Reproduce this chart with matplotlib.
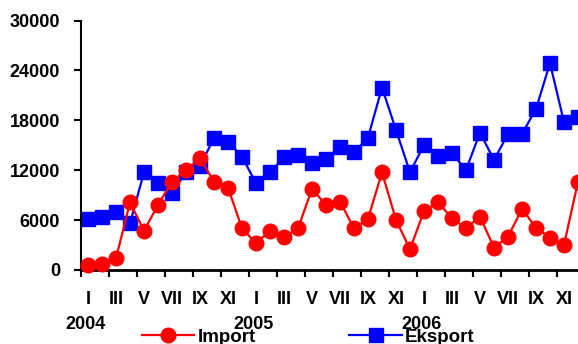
import matplotlib.pyplot as plt
from matplotlib.lines import Line2D

months = ["I", "II", "III", "IV", "V", "VI", "VII", "VIII", "IX", "X", "XI", "XII"] * 3
years = ["2004", "2005", "2006"]

import_vals = [600, 720, 1400, 8140, 4730, 7820, 10620, 12030, 13440, 10620, 9900, 5010,
               3210, 4730, 3930, 5010, 9750, 7820, 8220, 5010, 6140, 11750, 6020, 2490,
               7100, 8140, 6220, 5010, 6420, 2690, 4010, 7340, 5090, 3890, 3010, 10620]
eksport_vals = [6100, 6420, 7020, 5620, 11750, 10500, 9300, 11750, 12550, 15840, 15440, 13630,
                10420, 11750, 13550, 13830, 12900, 13350, 14830, 14150, 15920, 21930, 16840, 11750,
                15040, 13750, 14030, 12030, 16520, 13230, 16360, 16360, 19370, 24870, 17770, 18370]

plt.rcParams['font.family'] = ['Liberation Sans', 'DejaVu Sans']
plt.rcParams['font.weight'] = 'bold'

fig = plt.figure(figsize=(5.78, 3.44), dpi=100)
ax = fig.add_axes([81 / 578, 74 / 344, 504 / 578, 249.5 / 344])

x = list(range(len(months)))
ax.plot(x, import_vals, color='#ff0000', lw=1.6, marker='o', ms=10.5, label='Import', clip_on=False, zorder=3)
ax.plot(x, eksport_vals, color='#0000ff', lw=1.6, marker='s', ms=10.5, label='Eksport', clip_on=False, zorder=2)

ax.set_xlim(-0.5, 35.5)
ax.set_ylim(0, 30000)
ax.set_yticks([0, 6000, 12000, 18000, 24000, 30000])
ax.tick_params(axis='y', labelsize=13, width=1.5, length=5, direction='out', pad=10)
for lbl in ax.get_yticklabels():
    lbl.set_fontweight('bold')

# ticks at category borders every 2 months, labels on odd months
ax.set_xticks([i - 0.5 for i in range(0, 36, 2)])
ax.set_xticklabels([])
ax.tick_params(axis='x', width=1.5, length=5, direction='out')
for i in range(0, 36, 2):
    ax.text(i, -3500, months[i], ha='center', va='center', fontsize=13, fontweight='bold')
for k, yr in enumerate(years):
    ax.text(k * 12 - 0.2, -6500, yr, ha='center', va='center', fontsize=13, fontweight='bold')

for s in ['top', 'right']:
    ax.spines[s].set_visible(False)
ax.spines['left'].set_linewidth(1.5)
ax.spines['bottom'].set_linewidth(2)

handles = [Line2D([], [], color='#ff0000', lw=1.6, marker='o', ms=10.5),
           Line2D([], [], color='#0000ff', lw=1.6, marker='s', ms=10.5)]
fig.legend(handles, ['Import', 'Eksport'], loc='center', bbox_to_anchor=(0.533, 0.02), ncol=2,
           frameon=False, handlelength=2.8, columnspacing=5.0, handletextpad=0.15,
           prop={'weight': 'bold', 'size': 13.5})

fig.savefig('out.png', dpi=100)
